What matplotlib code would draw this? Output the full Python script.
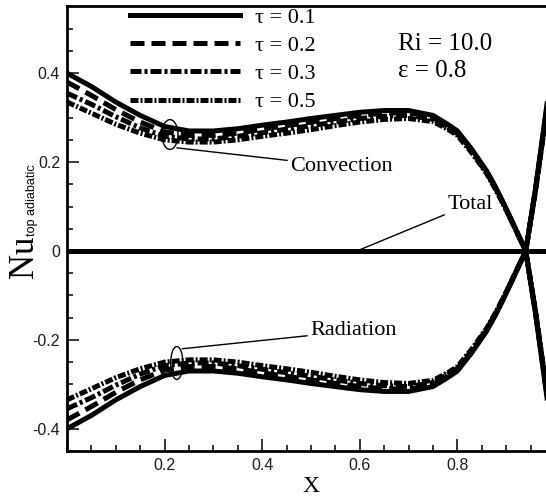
import matplotlib
matplotlib.use("Agg")
import matplotlib.pyplot as plt
from matplotlib.lines import Line2D
from matplotlib.patches import Ellipse
from matplotlib.ticker import FixedLocator, MultipleLocator, FormatStrFormatter

plt.rcParams["axes.unicode_minus"] = False

# position along the top wall
x = [0.0, 0.05, 0.1, 0.15, 0.2, 0.25, 0.3, 0.35, 0.4, 0.45, 0.5, 0.55, 0.6, 0.65,
     0.7, 0.75, 0.78, 0.8, 0.83, 0.86, 0.88, 0.9, 0.92, 0.94, 0.96, 0.98, 1.0]

taus = ["0.1", "0.2", "0.3", "0.5"]

# convective Nusselt number on the adiabatic top wall
conv_01 = [0.400, 0.370, 0.335, 0.305, 0.280, 0.270, 0.270, 0.275, 0.283, 0.290, 0.298, 0.305, 0.312, 0.316,
           0.316, 0.305, 0.285, 0.270, 0.228, 0.180, 0.140, 0.095, 0.048, 0.000, -0.140, -0.300, -0.470]
conv_02 = [0.380, 0.350, 0.318, 0.290, 0.268, 0.260, 0.260, 0.265, 0.274, 0.282, 0.290, 0.298, 0.305, 0.310,
           0.311, 0.301, 0.282, 0.267, 0.226, 0.178, 0.139, 0.094, 0.047, 0.000, -0.138, -0.297, -0.465]
conv_03 = [0.355, 0.330, 0.302, 0.277, 0.258, 0.252, 0.252, 0.258, 0.266, 0.274, 0.282, 0.290, 0.298, 0.303,
           0.305, 0.296, 0.278, 0.264, 0.223, 0.176, 0.137, 0.093, 0.047, 0.000, -0.136, -0.293, -0.460]
conv_05 = [0.335, 0.310, 0.285, 0.265, 0.250, 0.245, 0.245, 0.250, 0.258, 0.265, 0.273, 0.282, 0.290, 0.296,
           0.298, 0.291, 0.274, 0.260, 0.220, 0.174, 0.135, 0.092, 0.046, 0.000, -0.134, -0.290, -0.455]

# radiative Nusselt number
rad_01 = [-0.400, -0.370, -0.335, -0.305, -0.280, -0.270, -0.270, -0.275, -0.283, -0.290, -0.298, -0.305, -0.312, -0.316,
          -0.316, -0.305, -0.285, -0.270, -0.228, -0.180, -0.140, -0.095, -0.048, 0.000, 0.140, 0.300, 0.470]
rad_02 = [-0.380, -0.350, -0.318, -0.290, -0.268, -0.260, -0.260, -0.265, -0.274, -0.282, -0.290, -0.298, -0.305, -0.310,
          -0.311, -0.301, -0.282, -0.267, -0.226, -0.178, -0.139, -0.094, -0.047, 0.000, 0.138, 0.297, 0.465]
rad_03 = [-0.355, -0.330, -0.302, -0.277, -0.258, -0.252, -0.252, -0.258, -0.266, -0.274, -0.282, -0.290, -0.298, -0.303,
          -0.305, -0.296, -0.278, -0.264, -0.223, -0.176, -0.137, -0.093, -0.047, 0.000, 0.136, 0.293, 0.460]
rad_05 = [-0.335, -0.310, -0.285, -0.265, -0.250, -0.245, -0.245, -0.250, -0.258, -0.265, -0.273, -0.282, -0.290, -0.296,
          -0.298, -0.291, -0.274, -0.260, -0.220, -0.174, -0.135, -0.092, -0.046, 0.000, 0.134, 0.290, 0.455]

# total = convection + radiation
total = [0.0] * len(x)

conv = [conv_01, conv_02, conv_03, conv_05]
rad = [rad_01, rad_02, rad_03, rad_05]

styles = [
    "-",
    (0, (2.8, 1.4)),
    (0, (2.2, 0.6, 0.6, 0.6)),
    (0, (1.6, 0.4, 0.4, 0.4)),
]
LW = 3.6
SERIF = "Liberation Serif"
SANS = "Liberation Sans"

fig = plt.figure(figsize=(5.46, 4.97), dpi=100)
ax = fig.add_axes([67 / 546, 46 / 497, 488 / 546, 444.5 / 497])

for c, r, ls in zip(conv, rad, styles):
    ax.plot(x, c, color="black", lw=LW, ls=ls, dash_capstyle="butt")
    ax.plot(x, r, color="black", lw=LW, ls=ls, dash_capstyle="butt")
ax.plot(x, total, color="black", lw=LW)

ax.set_xlim(0, 1.0)
ax.set_ylim(-0.45, 0.55)

ax.xaxis.set_major_locator(FixedLocator([0.2, 0.4, 0.6, 0.8]))
ax.xaxis.set_minor_locator(MultipleLocator(0.05))
ax.yaxis.set_major_locator(FixedLocator([-0.4, -0.2, 0, 0.2, 0.4]))
ax.yaxis.set_minor_locator(MultipleLocator(0.05))
ax.xaxis.set_major_formatter(FormatStrFormatter("%g"))
ax.yaxis.set_major_formatter(FormatStrFormatter("%g"))
ax.tick_params(which="both", direction="in", top=False, right=False, width=1.1)
ax.tick_params(which="major", length=8.5, pad=5, labelsize=11.5, labelcolor="#1a1a2a")
ax.tick_params(which="minor", length=4.3)
for lab in ax.get_xticklabels() + ax.get_yticklabels():
    lab.set_family(SANS)
for sp in ax.spines.values():
    sp.set_linewidth(2.0)

ax.set_xlabel("X", family=SERIF, fontsize=17, labelpad=2)
fig.text(24 / 546, 1 - 257 / 497, "Nu", rotation=90, family=SERIF, fontsize=25,
         ha="center", va="center")
fig.text(32 / 546, 1 - 200 / 497, "top adiabatic", rotation=90, family=SANS, fontsize=9,
         ha="center", va="center")

handles = [Line2D([], [], color="black", lw=LW, ls=ls, dash_capstyle="butt") for ls in styles]
ax.legend(handles, [f"\u03c4 = {t}" for t in taus], loc="upper left",
          bbox_to_anchor=(0.129, 0.998), frameon=False, prop={"family": SERIF, "size": 16},
          handlelength=4.95, handletextpad=0.68, labelspacing=0.34,
          borderpad=0, borderaxespad=0)

ax.text(0.678, 0.466, "Ri = 10.0", family=SERIF, fontsize=18, va="center", ha="left")
ax.text(0.678, 0.405, "\u03b5 = 0.8", family=SERIF, fontsize=18, va="center", ha="left")

ax.add_patch(Ellipse((0.211, 0.262), 0.033, 0.067, fill=False, lw=1.0, color="black"))
ax.add_patch(Ellipse((0.225, -0.252), 0.025, 0.074, fill=False, lw=1.0, color="black"))

line = dict(arrowstyle="-", lw=1.0, color="black", shrinkA=0, shrinkB=0)
ax.annotate("Convection", xy=(0.225, 0.232), xytext=(0.457, 0.19), family=SERIF,
            fontsize=16, ha="left", va="center", arrowprops=line)
ax.annotate("Radiation", xy=(0.236, -0.22), xytext=(0.498, -0.18), family=SERIF,
            fontsize=16, ha="left", va="center", arrowprops=line)
ax.annotate("Total", xy=(0.594, 0.0), xytext=(0.779, 0.105), family=SERIF,
            fontsize=16, ha="left", va="center", arrowprops=line)

fig.savefig("out.png", dpi=100)
